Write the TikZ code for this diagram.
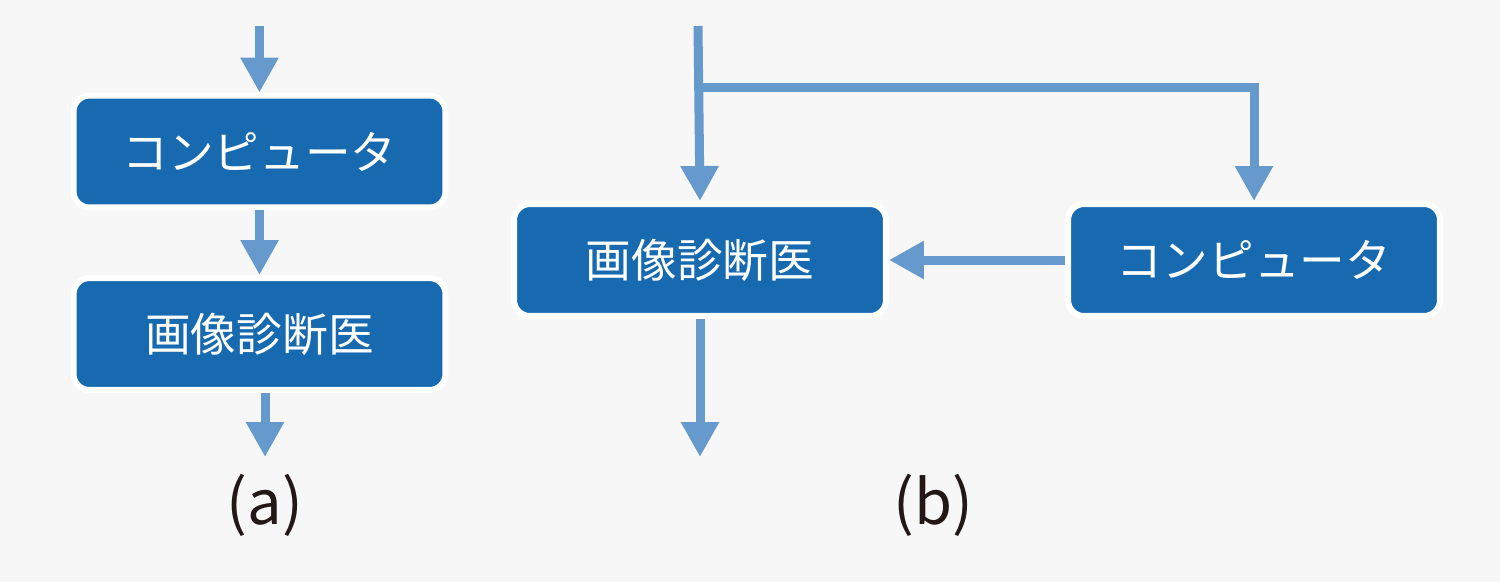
\documentclass[tikz,border=0pt]{standalone}
\usepackage{fontspec}
\setmainfont{Noto Sans CJK JP}
\usetikzlibrary{arrows.meta}
\definecolor{boxblue}{HTML}{1769B0}
\definecolor{flowblue}{HTML}{6699CC}
\definecolor{paper}{HTML}{F7F7F7}
\definecolor{ink}{HTML}{231815}
\begin{document}
\begin{tikzpicture}[x=0.02cm, y=-0.02cm,
		stage/.style={draw=white, line width=0.12cm, fill=boxblue, rounded corners=0.32cm,
			minimum width=7.44cm, minimum height=2.24cm, text=white, font=\fontsize{26}{30}\selectfont},
		flow/.style={draw=flowblue, line width=0.18cm, -{Triangle[width=0.72cm,length=0.7cm]}},
		caption/.style={text=ink, font=\fontsize{35}{40}\selectfont}]
	\fill[paper] (0,0) rectangle (1500,582);
	
	% 左図：直列 (a)
	\node[stage] (comp1) at (259.5,151.5) {コンピュータ};
	\node[stage] (diag1) at (259.5,334) {画像診断医};
	\coordinate (in1) at (259.5,26);
	\coordinate (out1) at (265,457);
	\draw[flow] (in1) -- (comp1.north);
	\draw[flow] (comp1.south) -- (diag1.north);
	\draw[flow] (diag1.south -| out1) -- (out1);
	\node[caption] (capa) at (265,505) {(a)};
	
	% 右図：並列 (b)
	\begin{scope}
		\node[stage] (diag2) at (700,260) {画像診断医};
		\node[stage] (comp2) at (1254,260) {コンピュータ};
		\coordinate (in2) at (698,26);
		\coordinate (split) at (703,87);
		\coordinate (out2) at (700,457);
		\draw[flow] (in2) -- (diag2.north);
		\draw[flow] (split) -| (comp2.north);
		\draw[flow] (comp2.west) -- (diag2.east);
		\draw[flow] (diag2.south) -- (out2);
		\node[caption] (capb) at (933,505) {(b)};
	\end{scope}
\end{tikzpicture}
\end{document}
